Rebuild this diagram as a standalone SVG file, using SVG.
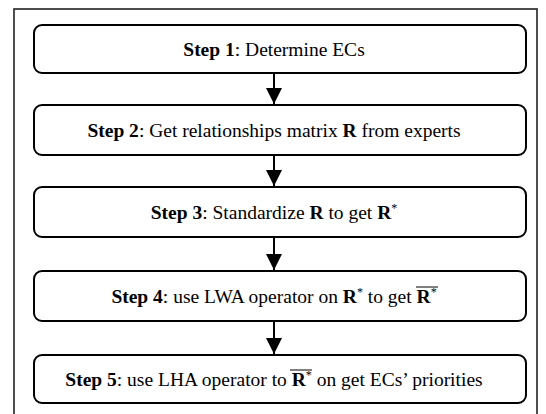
<svg xmlns="http://www.w3.org/2000/svg" width="546" height="414" viewBox="0 0 546 414">
  <style>
    .frame { fill: none; stroke: #222; stroke-width: 1.6; }
    .box { fill: #fff; stroke: #000; stroke-width: 2; }
    .lbl { font-family: "Liberation Serif", "Times New Roman", serif; font-size: 19.5px; fill: #000; text-anchor: middle; }
    .b { font-weight: bold; }
    .sup { font-size: 12px; }
    .bar { stroke: #000; stroke-width: 1; }
    .link { stroke: #000; stroke-width: 2; fill: none; marker-end: url(#head); }
  </style>
  <defs>
    <marker id="head" markerUnits="userSpaceOnUse" markerWidth="16" markerHeight="16" viewBox="0 0 16 16" refX="8" refY="16" orient="0">
      <path d="M0,0 L16,0 L8,16 Z" fill="#000"/>
    </marker>
  </defs>

  <rect id="frame" class="frame" x="14" y="9" width="523" height="420"/>

  <g id="connectors">
    <path class="link" d="M274,73 V104"/>
    <path class="link" d="M274,155 V186"/>
    <path class="link" d="M274,237 V270"/>
    <path class="link" d="M274,321 V354"/>
  </g>

  <g id="step1">
    <rect class="box" x="34" y="25" width="492" height="48" rx="8"/>
    <text class="lbl" x="274" y="56"><tspan class="b">Step 1</tspan>: Determine ECs</text>
  </g>

  <g id="step2">
    <rect class="box" x="34" y="105" width="492" height="50" rx="8"/>
    <text class="lbl" x="274" y="137"><tspan class="b">Step 2</tspan>: Get relationships matrix <tspan class="b">R</tspan> from experts</text>
  </g>

  <g id="step3">
    <rect class="box" x="34" y="187" width="492" height="50" rx="8"/>
    <text class="lbl" x="274" y="219"><tspan class="b">Step 3</tspan>: Standardize <tspan class="b">R</tspan> to get <tspan class="b">R</tspan><tspan class="sup" dy="-7">*</tspan></text>
  </g>

  <g id="step4">
    <rect class="box" x="34" y="271" width="492" height="50" rx="8"/>
    <text class="lbl" x="274" y="303"><tspan class="b">Step 4</tspan>: use LWA operator on <tspan class="b">R</tspan><tspan class="sup" dy="-7">*</tspan><tspan dy="7"> to get </tspan><tspan class="b">R</tspan><tspan class="sup" dy="-7">*</tspan></text>
    <line class="bar" x1="416" y1="287" x2="438" y2="287"/>
  </g>

  <g id="step5">
    <rect class="box" x="34" y="355" width="492" height="48" rx="8"/>
    <text class="lbl" x="274" y="386"><tspan class="b">Step 5</tspan>: use LHA operator to <tspan class="b">R</tspan><tspan class="sup" dy="-7">*</tspan><tspan dy="7"> on get ECs’ priorities</tspan></text>
    <line class="bar" x1="290" y1="370" x2="312" y2="370"/>
  </g>
</svg>
